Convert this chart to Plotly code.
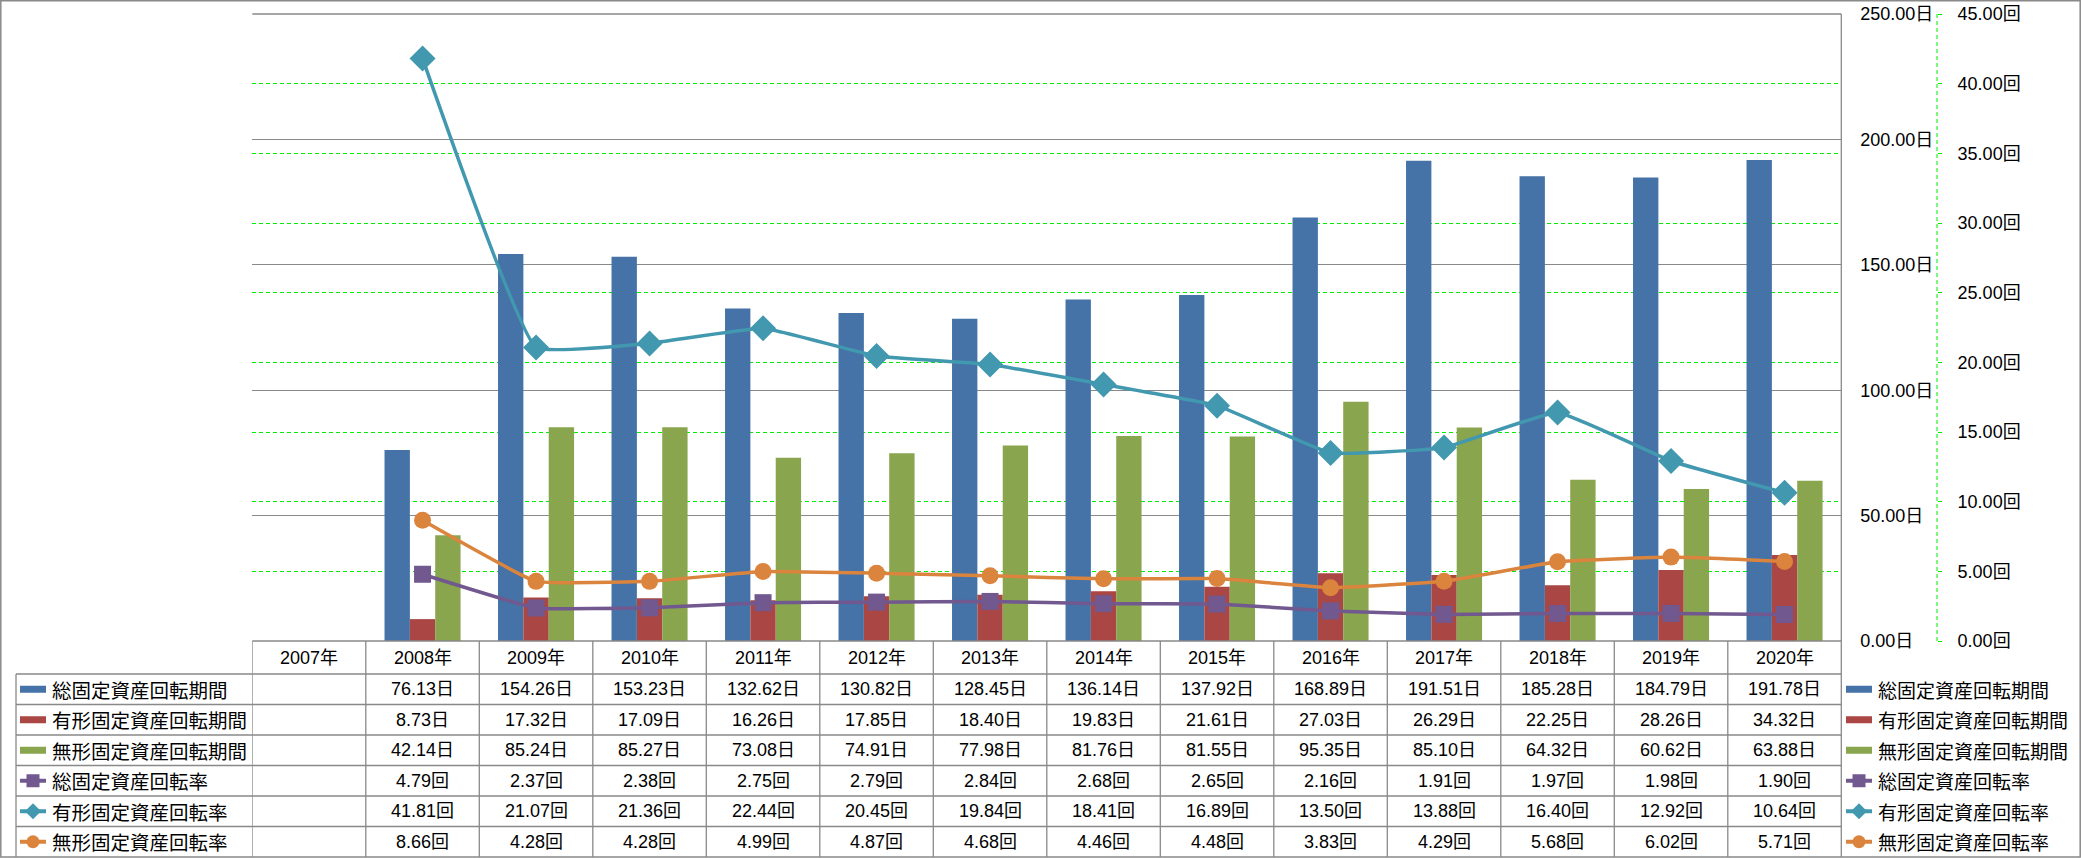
import plotly.graph_objects as go

# ---------------- data ----------------
years = ['2007年', '2008年', '2009年', '2010年', '2011年', '2012年', '2013年',
         '2014年', '2015年', '2016年', '2017年', '2018年', '2019年', '2020年']
total_days = [None, 76.13, 154.26, 153.23, 132.62, 130.82, 128.45, 136.14, 137.92, 168.89, 191.51, 185.28, 184.79, 191.78]
tangible_days = [None, 8.73, 17.32, 17.09, 16.26, 17.85, 18.40, 19.83, 21.61, 27.03, 26.29, 22.25, 28.26, 34.32]
intangible_days = [None, 42.14, 85.24, 85.27, 73.08, 74.91, 77.98, 81.76, 81.55, 95.35, 85.10, 64.32, 60.62, 63.88]
total_rate = [None, 4.79, 2.37, 2.38, 2.75, 2.79, 2.84, 2.68, 2.65, 2.16, 1.91, 1.97, 1.98, 1.90]
tangible_rate = [None, 41.81, 21.07, 21.36, 22.44, 20.45, 19.84, 18.41, 16.89, 13.50, 13.88, 16.40, 12.92, 10.64]
intangible_rate = [None, 8.66, 4.28, 4.28, 4.99, 4.87, 4.68, 4.46, 4.48, 3.83, 4.29, 5.68, 6.02, 5.71]

series_names = ['総固定資産回転期間', '有形固定資産回転期間', '無形固定資産回転期間',
                '総固定資産回転率', '有形固定資産回転率', '無形固定資産回転率']
series_units = ['日', '日', '日', '回', '回', '回']
series_colors = ['#4572A7', '#AA4643', '#89A54E', '#71588F', '#4198AF', '#DB843D']
series_kinds = ['bar', 'bar', 'bar', 'square', 'diamond', 'circle']
series_values = [total_days, tangible_days, intangible_days, total_rate, tangible_rate, intangible_rate]

# ---------------- geometry (page pixels) ----------------
W, H = 2081, 858

def px(x):
    return x / W

def py(y):
    return 1 - y / H

PLOT_L, PLOT_R = 252.3, 1841.3
PLOT_T, PLOT_B = 14.0, 641.0
Y2_AXIS_X = 1937.0
TABLE_LEFT = 16.0
ROW_LINES = [641.0, 674.0, 704.5, 735.0, 765.5, 796.0, 826.5, 857.0]
GRAY = '#898989'
GREEN = '#00EE00'
FONT = 'Liberation Sans, Noto Sans CJK JP, sans-serif'
JFONT = 'Noto Sans CJK JP, sans-serif'

fig = go.Figure()

# bars (primary axis)
for i in range(3):
    fig.add_trace(go.Bar(
        x=years, y=series_values[i], name=series_names[i],
        marker=dict(color=series_colors[i], line=dict(width=0)),
        yaxis='y', showlegend=False, hoverinfo='skip'))

# lines (secondary axis)
for i in range(3, 6):
    msize = 20 if series_kinds[i] == 'diamond' else 17
    fig.add_trace(go.Scatter(
        x=years, y=series_values[i], name=series_names[i], mode='lines+markers',
        line=dict(color=series_colors[i], width=3.5, shape='spline', smoothing=0.3),
        marker=dict(symbol=series_kinds[i], size=msize, color=series_colors[i],
                    line=dict(width=0)),
        yaxis='y2', showlegend=False, hoverinfo='skip', connectgaps=False))

shapes = []
annotations = []

# outer border
shapes.append(dict(type='rect', xref='paper', yref='paper',
                   x0=px(0.8), x1=px(W - 0.8), y0=py(H - 1.0), y1=py(0.8),
                   line=dict(color=GRAY, width=1.5)))
# top border line of the plot area (250 gridline)
shapes.append(dict(type='line', xref='paper', yref='paper',
                   x0=px(PLOT_L), x1=px(PLOT_R), y0=py(PLOT_T), y1=py(PLOT_T),
                   line=dict(color=GRAY, width=1.3)))
# right edge of plot area extending through table
shapes.append(dict(type='line', xref='paper', yref='paper',
                   x0=px(PLOT_R), x1=px(PLOT_R), y0=py(PLOT_T), y1=py(857),
                   line=dict(color=GRAY, width=1.3)))
# secondary axis line (green dashed)
shapes.append(dict(type='line', xref='paper', yref='paper',
                   x0=px(Y2_AXIS_X), x1=px(Y2_AXIS_X), y0=py(PLOT_T), y1=py(PLOT_B),
                   line=dict(color=GREEN, width=1, dash='4px,3px')))

# table horizontal lines
for k, yl in enumerate(ROW_LINES[:-1]):
    x0 = PLOT_L if k == 0 else TABLE_LEFT
    shapes.append(dict(type='line', xref='paper', yref='paper',
                       x0=px(x0), x1=px(PLOT_R), y0=py(yl), y1=py(yl),
                       line=dict(color=GRAY, width=1.3)))
# table vertical lines
shapes.append(dict(type='line', xref='paper', yref='paper',
                   x0=px(TABLE_LEFT), x1=px(TABLE_LEFT), y0=py(ROW_LINES[1]), y1=py(857),
                   line=dict(color=GRAY, width=1.3)))
for k in range(len(years)):
    shapes.append(dict(type='line', xref='x', yref='paper',
                       x0=k - 0.5, x1=k - 0.5, y0=py(ROW_LINES[0]), y1=py(857),
                       line=dict(color=GRAY, width=1.3)))

# header row (years)
hc = (ROW_LINES[0] + ROW_LINES[1]) / 2
for k, yr in enumerate(years):
    annotations.append(dict(x=yr, xref='x', y=py(hc), yref='paper', text=yr,
                            showarrow=False, xanchor='center', yanchor='middle',
                            font=dict(family=FONT, size=18, color='black')))


def add_key(x0, yc, idx):
    c = series_colors[idx]
    kind = series_kinds[idx]
    x1 = x0 + 26
    if kind == 'bar':
        shapes.append(dict(type='rect', xref='paper', yref='paper',
                           x0=px(x0), x1=px(x1), y0=py(yc + 3.5), y1=py(yc - 3.5),
                           fillcolor=c, line=dict(width=0)))
        return
    shapes.append(dict(type='line', xref='paper', yref='paper',
                       x0=px(x0), x1=px(x1), y0=py(yc), y1=py(yc),
                       line=dict(color=c, width=4)))
    cx = (x0 + x1) / 2
    r = 6.5
    if kind == 'square':
        shapes.append(dict(type='rect', xref='paper', yref='paper',
                           x0=px(cx - r), x1=px(cx + r), y0=py(yc + r), y1=py(yc - r),
                           fillcolor=c, line=dict(width=0)))
    elif kind == 'circle':
        shapes.append(dict(type='circle', xref='paper', yref='paper',
                           x0=px(cx - r), x1=px(cx + r), y0=py(yc + r), y1=py(yc - r),
                           fillcolor=c, line=dict(width=0)))
    else:
        d = 8
        path = 'M {} {} L {} {} L {} {} L {} {} Z'.format(
            px(cx - d), py(yc), px(cx), py(yc - d), px(cx + d), py(yc), px(cx), py(yc + d))
        shapes.append(dict(type='path', xref='paper', yref='paper', path=path,
                           fillcolor=c, line=dict(width=0)))


# data rows
for r in range(6):
    yc = (ROW_LINES[r + 1] + ROW_LINES[r + 2]) / 2
    add_key(20, yc, r)
    annotations.append(dict(x=px(50), xref='paper', y=py(yc), yref='paper',
                            text=series_names[r], showarrow=False,
                            xanchor='left', yanchor='middle',
                            font=dict(family=JFONT, size=19.5, color='black')))
    for k, v in enumerate(series_values[r]):
        if v is None:
            continue
        annotations.append(dict(x=years[k], xref='x', y=py(yc), yref='paper',
                                text='{:.2f}{}'.format(v, series_units[r]),
                                showarrow=False, xanchor='center', yanchor='middle',
                                font=dict(family=FONT, size=18, color='black')))
    # right legend
    add_key(1846, yc, r)
    annotations.append(dict(x=px(1876), xref='paper', y=py(yc), yref='paper',
                            text=series_names[r], showarrow=False,
                            xanchor='left', yanchor='middle',
                            font=dict(family=JFONT, size=19, color='black')))

fig.update_layout(
    width=W, height=H,
    margin=dict(l=0, r=0, t=0, b=0, autoexpand=False),
    paper_bgcolor='white', plot_bgcolor='white',
    barmode='group', bargap=0.33, bargroupgap=0,
    showlegend=False,
    xaxis=dict(domain=[px(PLOT_L), px(PLOT_R)], type='category',
               range=[-0.5, len(years) - 0.5], automargin=False,
               showticklabels=False, showgrid=False, zeroline=False,
               showline=False, ticks=''),
    yaxis=dict(domain=[py(PLOT_B), py(PLOT_T)], range=[0, 250], dtick=50,
               side='right', anchor='x', tickformat='.2f', ticksuffix='日',
               automargin=False,
               showgrid=True, gridcolor=GRAY, gridwidth=1, zeroline=False,
               showline=False, ticks='', ticklabelstandoff=18,
               ticklabeloverflow='allow',
               tickfont=dict(family=FONT, size=18, color='black')),
    yaxis2=dict(overlaying='y', range=[0, 45], dtick=5, side='right',
                anchor='free', position=px(Y2_AXIS_X), automargin=False,
                tickformat='.2f', ticksuffix='回',
                showgrid=True, gridcolor=GREEN, gridwidth=1, griddash='4px,3px',
                zeroline=False, showline=False,
                ticks='outside', ticklen=4, tickcolor=GREEN, tickwidth=1,
                ticklabelstandoff=12, ticklabeloverflow='allow',
                tickfont=dict(family=FONT, size=18, color='black')),
    shapes=shapes, annotations=annotations,
)

fig.write_html("out.html", config={'displayModeBar': False},
               post_script="document.body.style.margin='0';document.body.style.overflow='hidden';")
